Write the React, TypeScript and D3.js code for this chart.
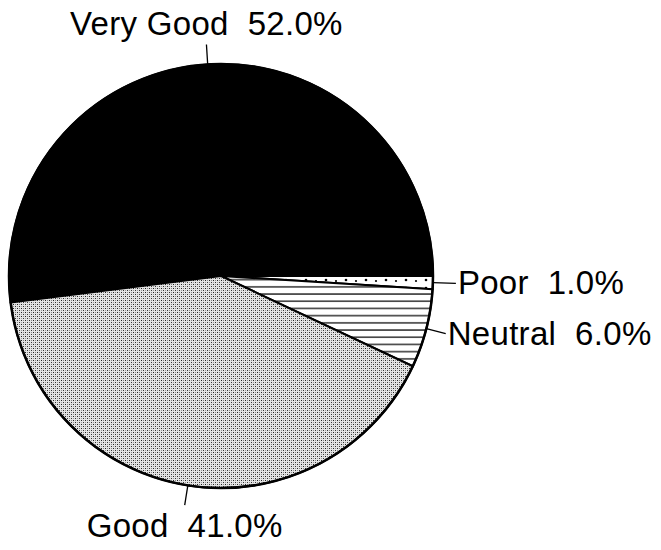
import React from 'react'
import * as d3 from 'd3'

const categories = ['Very Good', 'Poor', 'Neutral', 'Good']
const shares = [52.0, 1.0, 6.0, 41.0]
const fills = ['#000', 'url(#dots)', 'url(#hlines)', 'url(#stipple)']

const W = 661
const H = 550
const cx = 221
const cy = 276
const R = 212

const App = () => {
  const data = categories.map((c, i) => ({ name: c, value: shares[i], fill: fills[i] }))

  // Very Good goes clockwise so that Poor starts at 3 o'clock
  const start = ((90 - shares[0] * 3.6) * Math.PI) / 180
  const pie = d3.pie<typeof data[0]>()
    .sort(null)
    .value((d) => d.value)
    .startAngle(start)
    .endAngle(start + 2 * Math.PI)
  const arcs = pie(data)
  const arc = d3.arc<d3.PieArcDatum<typeof data[0]>>().innerRadius(0).outerRadius(R)

  const pt = (a: number, r: number) => [cx + r * Math.sin(a), cy - r * Math.cos(a)]

  return (
    <svg width={W} height={H} style={{ position: 'absolute', left: 0, top: 0, background: '#fff' }}>
      <defs>
        <pattern id="stipple" width="4" height="4" patternUnits="userSpaceOnUse">
          <rect width="4" height="4" fill="#e4e4e4" />
          <rect x="0" y="0" width="1" height="1" fill="#222" />
          <rect x="2" y="2" width="1" height="1" fill="#333" />
          <rect x="2" y="0" width="1" height="1" fill="#888" />
          <rect x="0" y="2" width="1" height="1" fill="#999" />
        </pattern>
        <pattern id="hlines" width="8" height="7.2" patternUnits="userSpaceOnUse">
          <rect width="8" height="7.2" fill="#fff" />
          <rect x="0" y="3" width="8" height="1.3" fill="#111" />
        </pattern>
        <pattern id="dots" width="20" height="8" patternUnits="userSpaceOnUse">
          <rect width="20" height="8" fill="#fff" />
          <circle cx="5" cy="4" r="1.3" fill="#000" />
          <circle cx="15" cy="5" r="1.1" fill="#000" />
        </pattern>
      </defs>
      <g transform={`translate(${cx},${cy})`}>
        {arcs.map((a, i) => (
          <path key={i} d={arc(a) || ''} fill={a.data.fill} stroke="#000" strokeWidth={2} strokeLinejoin="round" />
        ))}
        <circle r={R} fill="none" stroke="#000" strokeWidth={2.5} />
      </g>
      {arcs.map((a, i) => {
        const mid = (a.startAngle + a.endAngle) / 2
        const len = a.data.name === 'Poor' ? 23 : 20
        const [x1, y1] = pt(mid, R)
        const [x2, y2] = pt(mid, R + len)
        const s = Math.sin(mid)
        const c = Math.cos(mid)
        let tx = x2
        let ty = y2
        let anchor: 'start' | 'middle' | 'end' = 'middle'
        if (Math.abs(s) > 0.7) {
          anchor = s > 0 ? 'start' : 'end'
          tx = x2 + (s > 0 ? 2 : -2)
          ty = y2 + 11
        } else if (c > 0) {
          ty = y2 - 9
        } else {
          ty = y2 + 32
        }
        return (
          <g key={'l' + i}>
            <line x1={x1} y1={y1} x2={x2} y2={y2} stroke="#000" strokeWidth={1.3} />
            <text x={tx} y={ty} textAnchor={anchor} fontSize={33} letterSpacing={0.3}
              fontFamily="'Liberation Sans', Arial, Helvetica, sans-serif" fill="#000"
              style={{ whiteSpace: 'pre' }}>
              {`${a.data.name}  ${a.data.value.toFixed(1)}%`}
            </text>
          </g>
        )
      })}
    </svg>
  )
}

export default App
